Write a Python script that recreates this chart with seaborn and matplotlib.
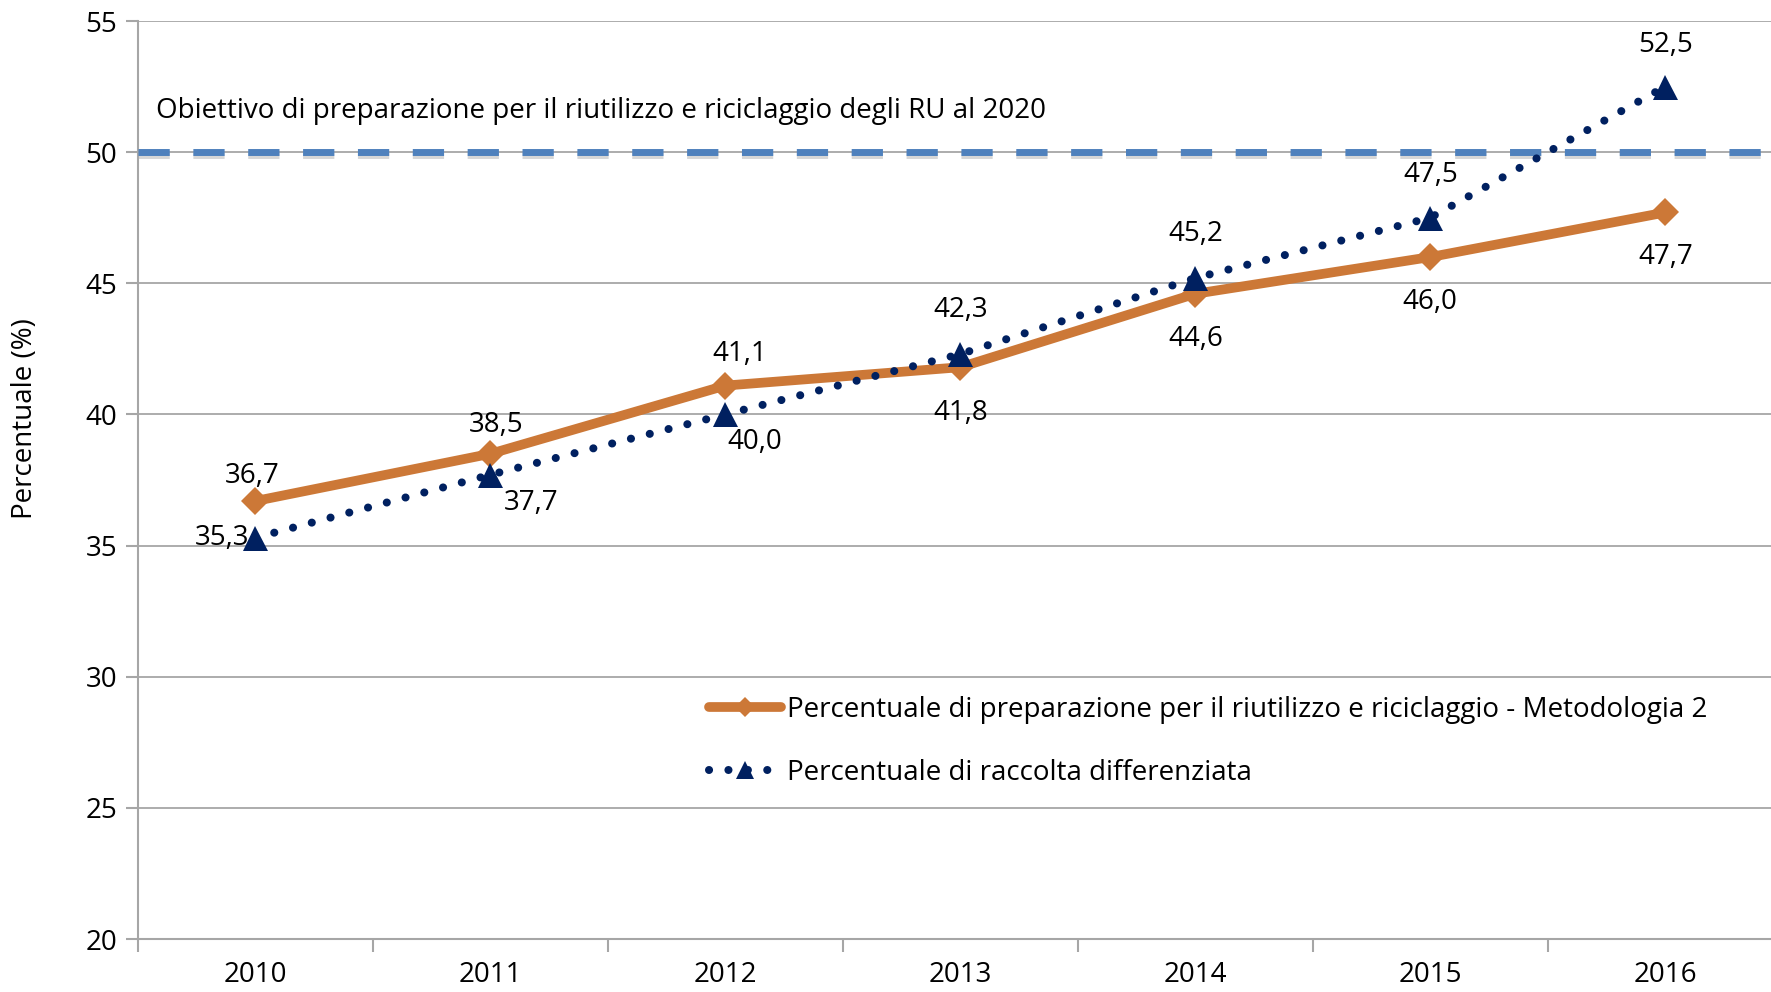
import matplotlib
matplotlib.use("Agg")
import matplotlib.pyplot as plt
import seaborn as sns
import pandas as pd
import numpy as np
from matplotlib.ticker import FixedLocator

years = ["2010", "2011", "2012", "2013", "2014", "2015", "2016"]
riciclaggio = [36.7, 38.5, 41.1, 41.8, 44.6, 46.0, 47.7]
raccolta = [35.3, 37.7, 40.0, 42.3, 45.2, 47.5, 52.5]
obiettivo = 50
label_ric = "Percentuale di preparazione per il riutilizzo e riciclaggio - Metodologia 2"
label_rac = "Percentuale di raccolta differenziata"
label_obj = "Obiettivo di preparazione per il riutilizzo e riciclaggio degli RU al 2020"
ylabel = "Percentuale (%)"

sns.set_theme(style="white")
plt.rcParams["font.family"] = ["Open Sans", "DejaVu Sans"]
FS = 20

ORANGE = "#CC7837"
NAVY = "#002060"
BLUE = "#4F81BD"
GRID = "#A6A6A6"

df = pd.DataFrame({"x": np.arange(len(years)), "ric": riciclaggio, "rac": raccolta})

fig = plt.figure(figsize=(17.71, 9.92), dpi=100)
ax = fig.add_axes([138 / 1771, 1 - 939 / 992, 1 - 138 / 1771, (939 - 21) / 992])

ax.set_ylim(20, 55)
ax.set_xlim(-0.5, 6.45)
ax.yaxis.set_major_locator(FixedLocator(np.arange(20, 56, 5)))
ax.grid(axis="y", color=GRID, linewidth=1.3)
ax.set_axisbelow(True)

# target line with shadow
ax.axhline(obiettivo - 0.12, color="#B0B0B0", alpha=0.5, linewidth=5,
           dashes=(4.5, 3.4), zorder=2)
ax.axhline(obiettivo, color=BLUE, linewidth=5, dashes=(4.5, 3.4), zorder=3)

sns.lineplot(data=df, x="x", y="ric", ax=ax, color=ORANGE, linewidth=7,
             marker="D", markersize=14, markeredgewidth=0, label=label_ric,
             zorder=4, solid_capstyle="round")
sns.lineplot(data=df, x="x", y="rac", ax=ax, color=NAVY, linewidth=5.8,
             marker="^", markersize=18, markeredgewidth=0, label=label_rac,
             zorder=5, dashes=False)
line_rac = ax.get_lines()[-1]
line_rac.set_linestyle((0, (0.01, 2.4)))
line_rac.set_dash_capstyle("round")

# data labels
off_ric = [(-3, 25), (6, 29), (14, 32), (0, -46), (0, -45), (0, -45), (0, -45)]
off_rac = [(-33, 0), (41, -28), (29, -28), (0, 44), (0, 44), (0, 43), (0, 42)]
for i, v in enumerate(riciclaggio):
    ax.annotate(f"{v:.1f}".replace(".", ","), (i, v), xytext=off_ric[i],
                textcoords="offset pixels", ha="center", va="center",
                fontsize=FS, color="black", zorder=6)
for i, v in enumerate(raccolta):
    ax.annotate(f"{v:.1f}".replace(".", ","), (i, v), xytext=off_rac[i],
                textcoords="offset pixels", ha="center", va="center",
                fontsize=FS, color="black", zorder=6)

ax.text(156 / 1771, 1 - 111 / 992, label_obj, transform=fig.transFigure,
        fontsize=FS, ha="left", va="center", color="black")

# axes styling
for s in ["top", "right"]:
    ax.spines[s].set_visible(False)
for s in ["left", "bottom"]:
    ax.spines[s].set_color(GRID)
    ax.spines[s].set_linewidth(1.5)
ax.set_xticks(range(len(years)))
ax.set_xticklabels(years)
ax.xaxis.set_minor_locator(FixedLocator(np.arange(-0.5, 6.6, 1)))
ax.tick_params(axis="x", which="major", length=0, labelsize=FS, pad=16, colors="black")
ax.tick_params(axis="x", which="minor", length=9, width=1.5, color=GRID, direction="out", bottom=True)
ax.tick_params(axis="y", which="major", length=9, width=1.5, color=GRID, direction="out",
               left=True, labelsize=FS, pad=6, labelcolor="black")
ax.set_xlabel("")
ax.set_ylabel("")
fig.text(25 / 1771, 1 - 419 / 992, ylabel, rotation=90, ha="center", va="center",
         fontsize=FS, color="black")

leg = ax.legend(loc="upper left", bbox_to_anchor=(709 / 1771, 1 - 696 / 992),
                bbox_transform=fig.transFigure, frameon=False, fontsize=FS,
                handlelength=2.6, handletextpad=0.2, labelspacing=1.25,
                borderpad=0, borderaxespad=0, markerscale=0.75)
for t in leg.get_texts():
    t.set_color("black")

fig.savefig("out.png", dpi=100)
